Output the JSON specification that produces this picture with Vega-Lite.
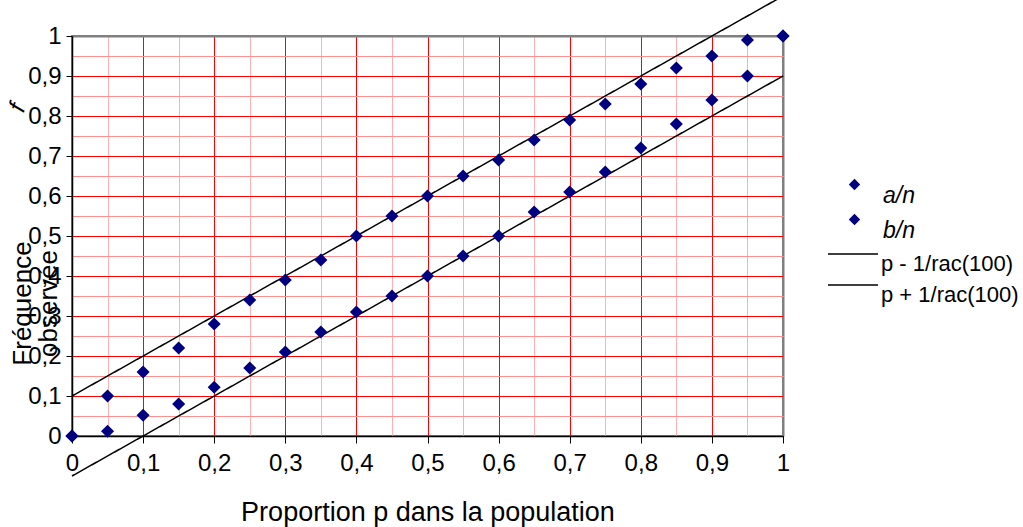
{
  "$schema": "https://vega.github.io/schema/vega-lite/v6.json",
  "width": 711,
  "height": 400,
  "autosize": {"type": "none"},
  "padding": {"left": 72, "top": 36, "right": 240, "bottom": 91},
  "background": "white",
  "config": {
    "font": "Liberation Sans",
    "view": {"stroke": "#808080", "strokeWidth": 2},
    "axis": {"labelFont": "Liberation Sans", "titleFont": "Liberation Sans", "labelColor": "black", "titleColor": "black", "titleFontWeight": "normal", "domainColor": "black", "domainWidth": 1.5, "gridOpacity": 1}
  },
  "datasets": {
    "pts": [
      {"s": "a/n", "p": 0, "v": 0},
      {"s": "a/n", "p": 0.05, "v": 0.1},
      {"s": "a/n", "p": 0.1, "v": 0.16},
      {"s": "a/n", "p": 0.15, "v": 0.22},
      {"s": "a/n", "p": 0.2, "v": 0.28},
      {"s": "a/n", "p": 0.25, "v": 0.34},
      {"s": "a/n", "p": 0.3, "v": 0.39},
      {"s": "a/n", "p": 0.35, "v": 0.44},
      {"s": "a/n", "p": 0.4, "v": 0.5},
      {"s": "a/n", "p": 0.45, "v": 0.55},
      {"s": "a/n", "p": 0.5, "v": 0.6},
      {"s": "a/n", "p": 0.55, "v": 0.65},
      {"s": "a/n", "p": 0.6, "v": 0.69},
      {"s": "a/n", "p": 0.65, "v": 0.74},
      {"s": "a/n", "p": 0.7, "v": 0.79},
      {"s": "a/n", "p": 0.75, "v": 0.83},
      {"s": "a/n", "p": 0.8, "v": 0.88},
      {"s": "a/n", "p": 0.85, "v": 0.92},
      {"s": "a/n", "p": 0.9, "v": 0.95},
      {"s": "a/n", "p": 0.95, "v": 0.99},
      {"s": "a/n", "p": 1, "v": 1},
      {"s": "b/n", "p": 0, "v": 0},
      {"s": "b/n", "p": 0.05, "v": 0.012},
      {"s": "b/n", "p": 0.1, "v": 0.052},
      {"s": "b/n", "p": 0.15, "v": 0.08},
      {"s": "b/n", "p": 0.2, "v": 0.122},
      {"s": "b/n", "p": 0.25, "v": 0.17},
      {"s": "b/n", "p": 0.3, "v": 0.21},
      {"s": "b/n", "p": 0.35, "v": 0.26},
      {"s": "b/n", "p": 0.4, "v": 0.31},
      {"s": "b/n", "p": 0.45, "v": 0.35},
      {"s": "b/n", "p": 0.5, "v": 0.4},
      {"s": "b/n", "p": 0.55, "v": 0.45},
      {"s": "b/n", "p": 0.6, "v": 0.5},
      {"s": "b/n", "p": 0.65, "v": 0.56},
      {"s": "b/n", "p": 0.7, "v": 0.61},
      {"s": "b/n", "p": 0.75, "v": 0.66},
      {"s": "b/n", "p": 0.8, "v": 0.72},
      {"s": "b/n", "p": 0.85, "v": 0.78},
      {"s": "b/n", "p": 0.9, "v": 0.84},
      {"s": "b/n", "p": 0.95, "v": 0.9},
      {"s": "b/n", "p": 1, "v": 1}
    ],
    "lines": [
      {"s": "p - 1/rac(100)", "p": 0, "v": -0.1},
      {"s": "p - 1/rac(100)", "p": 1, "v": 0.9},
      {"s": "p + 1/rac(100)", "p": 0, "v": 0.1},
      {"s": "p + 1/rac(100)", "p": 1, "v": 1.1}
    ],
    "lab": [
      {"p": -0.076, "v": 0.82, "t": "f"}
    ]
  },
  "encoding": {
    "x": {
      "field": "p", "type": "quantitative",
      "scale": {"domain": [0, 1], "nice": false, "zero": false},
      "axis": {
        "values": [0, 0.05, 0.1, 0.15, 0.2, 0.25, 0.3, 0.35, 0.4, 0.45, 0.5, 0.55, 0.6, 0.65, 0.7, 0.75, 0.8, 0.85, 0.9, 0.95, 1],
        "grid": true,
        "gridColor": {"condition": [
          {"test": "datum.value > 0.999", "value": "#808080"},
          {"test": "abs(round(datum.value*10) - datum.value*10) < 0.001", "value": "#FF0000"}
        ], "value": "#FFB0B0"},
        "gridWidth": {"condition": {"test": "datum.value > 0.999", "value": 2}, "value": 1},
        "tickColor": {"condition": {"test": "abs(round(datum.value*10) - datum.value*10) < 0.001", "value": "black"}, "value": "transparent"},
        "labelExpr": "abs(round(datum.value*10) - datum.value*10) < 0.001 ? replace(format(datum.value, '.1~f'), '.', ',') : ''",
        "labelFontSize": 24,
        "labelPadding": 8,
        "labelFlush": false,
        "labelOverlap": false,
        "tickSize": 7,
        "title": "Proportion p dans la population",
        "titleFontSize": 27,
        "titlePadding": 24
      }
    },
    "y": {
      "field": "v", "type": "quantitative",
      "scale": {"domain": [0, 1], "nice": false, "zero": false},
      "axis": {
        "values": [0, 0.05, 0.1, 0.15, 0.2, 0.25, 0.3, 0.35, 0.4, 0.45, 0.5, 0.55, 0.6, 0.65, 0.7, 0.75, 0.8, 0.85, 0.9, 0.95, 1],
        "grid": true,
        "gridColor": {"condition": [
          {"test": "datum.value > 0.999", "value": "#808080"},
          {"test": "abs(round(datum.value*10) - datum.value*10) < 0.001", "value": "#FF0000"}
        ], "value": "#FF9090"},
        "gridWidth": {"condition": {"test": "datum.value > 0.999", "value": 2}, "value": 1},
        "tickColor": {"condition": {"test": "abs(round(datum.value*10) - datum.value*10) < 0.001", "value": "black"}, "value": "transparent"},
        "labelExpr": "abs(round(datum.value*10) - datum.value*10) < 0.001 ? replace(format(datum.value, '.1~f'), '.', ',') : ''",
        "labelFontSize": 24,
        "labelPadding": 5,
        "labelFlush": false,
        "labelOverlap": false,
        "tickSize": 6,
        "title": ["Fréquence", "observée"],
        "titleFontSize": 26,
        "titleLineHeight": 26,
        "titleAngle": 270,
        "titleAlign": "center",
        "titleBaseline": "alphabetic",
        "titleX": -42,
        "titleY": 267
      }
    }
  },
  "layer": [
    {
      "data": {"name": "lines"},
      "mark": {"type": "line", "clip": false, "strokeWidth": 1.5, "color": "black"},
      "encoding": {
        "strokeDash": {"field": "s", "type": "nominal",
          "scale": {"domain": ["p - 1/rac(100)", "p + 1/rac(100)"], "range": [[1, 0], [1, 0]]},
          "legend": {
            "title": null,
            "orient": "none",
            "legendX": 755,
            "legendY": 208,
            "symbolType": "stroke",
            "symbolSize": 2500,
            "clipHeight": 20,
            "symbolStrokeColor": "black",
            "symbolStrokeWidth": 1.5,
            "labelFontSize": 22,
            "labelFont": "Liberation Sans",
            "labelColor": "black",
            "labelBaseline": "top",
            "labelOffset": 2,
            "rowPadding": 0,
            "labelLimit": 300
          }
        }
      }
    },
    {
      "data": {"name": "pts"},
      "mark": {"type": "point", "shape": "diamond", "filled": true, "size": 170, "opacity": 1, "clip": false},
      "encoding": {
        "color": {"field": "s", "type": "nominal",
          "scale": {"domain": ["a/n", "b/n"], "range": ["#000080", "#000080"]},
          "legend": {
            "title": null,
            "orient": "none",
            "legendX": 771,
            "legendY": 137,
            "symbolType": "diamond",
            "symbolSize": 130,
            "symbolOpacity": 1,
            "labelFontSize": 23,
            "labelFontStyle": "italic",
            "labelFont": "Liberation Sans",
            "labelColor": "black",
            "labelBaseline": "top",
            "labelOffset": 17,
            "rowPadding": 0,
            "labelLimit": 300
          }
        }
      }
    },
    {
      "data": {"name": "lab"},
      "mark": {"type": "text", "clip": false, "angle": 290, "fontStyle": "italic", "fontSize": 24, "font": "Liberation Sans", "color": "black"},
      "encoding": {"text": {"field": "t"}}
    }
  ],
  "resolve": {"legend": {"color": "independent", "strokeDash": "independent"}}
}
